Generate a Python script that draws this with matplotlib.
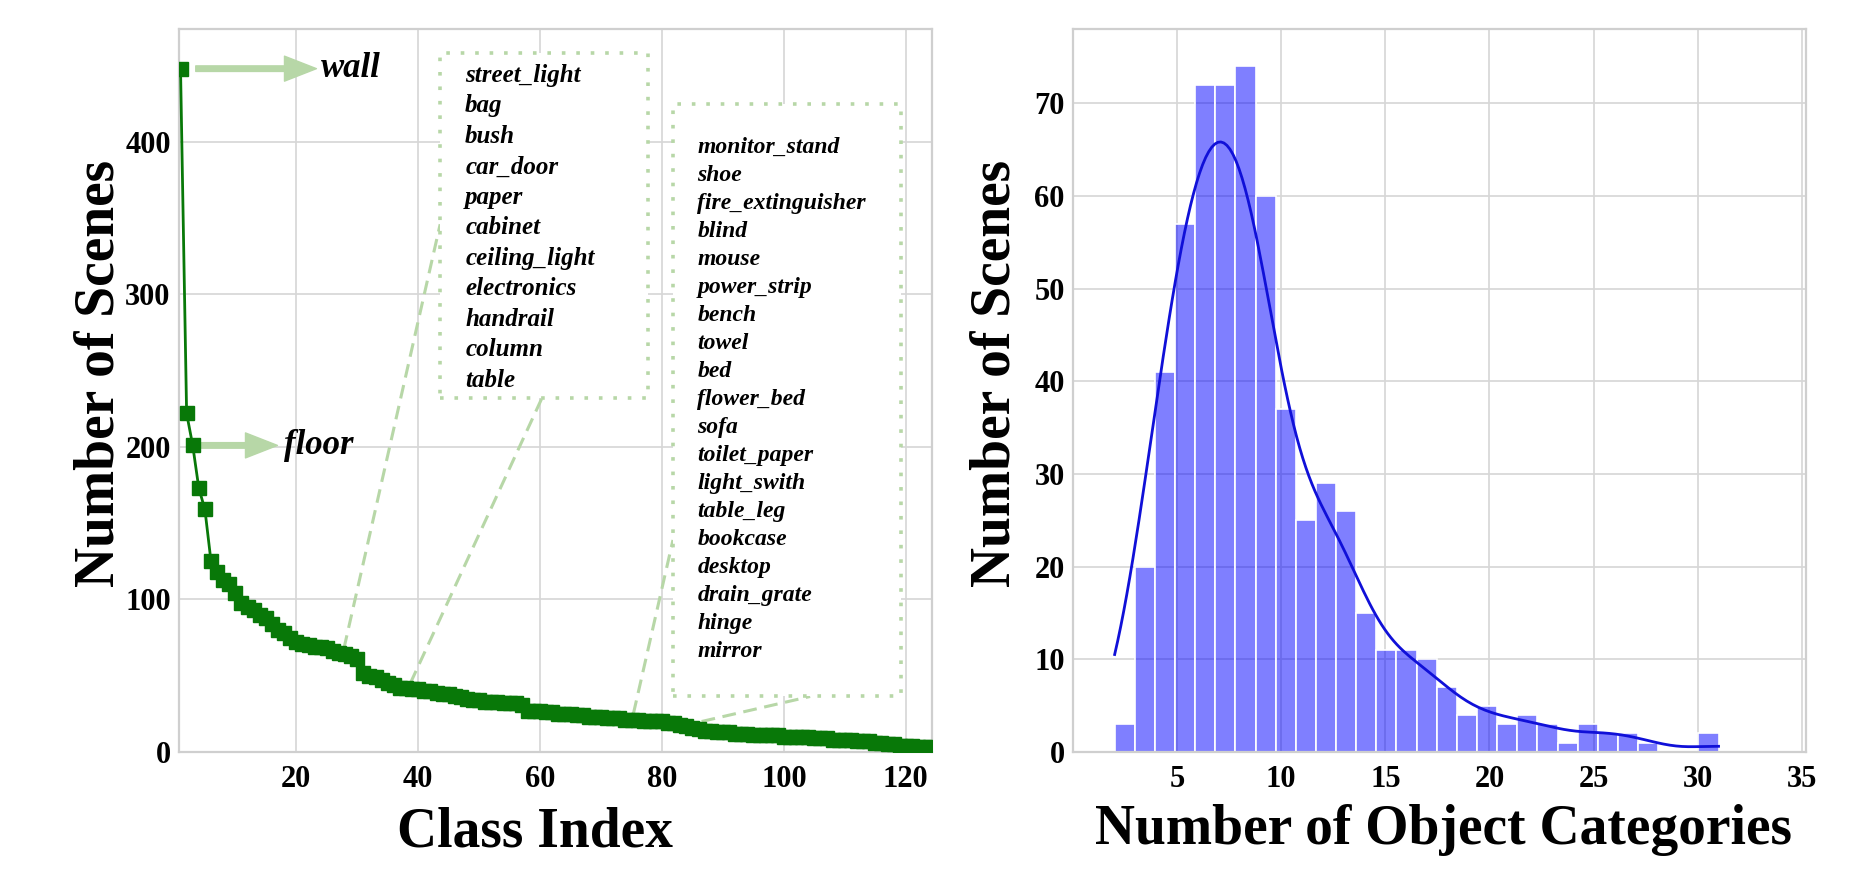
import matplotlib
matplotlib.use('Agg')
import matplotlib.pyplot as plt
import numpy as np
import seaborn as sns
from matplotlib.patches import Rectangle

plt.rcParams['font.family'] = ['Liberation Serif', 'DejaVu Serif']
plt.rcParams['font.weight'] = 'bold'
plt.rcParams['axes.labelweight'] = 'bold'

# --- left: number of scenes per class, sorted ---
scene_counts = [448, 222, 201, 173, 159, 125, 118, 113, 110, 104,
                98, 95, 93, 90, 88, 84, 80, 78, 75, 72,
                71, 70, 69, 69, 68, 66, 65, 64, 63, 61,
                52, 50, 49, 47, 45, 44, 42, 42, 41, 41,
                40, 40, 39, 38, 38, 37, 36, 35, 34, 34,
                33, 33, 33, 32, 32, 32, 31, 27, 27, 27,
                26, 26, 25, 25, 25, 24, 24, 23, 23, 23,
                22, 22, 22, 21, 21, 21, 20, 20, 20, 20,
                19, 19, 18, 17, 16, 15, 14, 14, 13, 13,
                13, 12, 12, 12, 11, 11, 11, 11, 11, 10,
                10, 10, 10, 10, 9, 9, 9, 8, 8, 8,
                8, 7, 7, 7, 6, 6, 5, 5, 4, 4,
                4, 3, 3, 3]
class_index = np.arange(1, len(scene_counts) + 1)

box1_labels = ['street_light', 'bag', 'bush', 'car_door', 'paper', 'cabinet',
               'ceiling_light', 'electronics', 'handrail', 'column', 'table']
box2_labels = ['monitor_stand', 'shoe', 'fire_extinguisher', 'blind', 'mouse',
               'power_strip', 'bench', 'towel', 'bed', 'flower_bed', 'sofa',
               'toilet_paper', 'light_swith', 'table_leg', 'bookcase', 'desktop',
               'drain_grate', 'hinge', 'mirror']

# --- right: histogram of object categories per scene ---
n_categories = np.arange(2, 32)
n_scenes_hist = [3, 20, 41, 57, 72, 72, 74, 60, 37, 25,
                 29, 26, 15, 11, 11, 10, 7, 4, 5, 3,
                 4, 3, 1, 3, 2, 2, 1, 0, 0, 2]
bin_edges = np.linspace(2, 31, 31)

lg = '#b7d7a7'
dark_green = '#087808'

W, H = 1872, 896
fig = plt.figure(figsize=(W / 100, H / 100), dpi=100)
ax1 = fig.add_axes([179 / W, 1 - 752 / H, (932 - 179) / W, (752 - 29) / H])
ax2 = fig.add_axes([1073 / W, 1 - 752 / H, (1806 - 1073) / W, (752 - 29) / H])

for ax in (ax1, ax2):
    ax.grid(True, color='#d6d6d6', lw=1.2)
    ax.set_axisbelow(True)
    for s in ax.spines.values():
        s.set_color('#cfcfcf')
        s.set_linewidth(1.6)
    ax.tick_params(length=0, labelsize=22)
    ax.tick_params(axis='x', pad=9)
    ax.tick_params(axis='y', pad=6)

# left plot
ax1.plot(class_index, scene_counts, color=dark_green, marker='s', ms=9.5,
         lw=2, zorder=4)
ax1.set_xlim(0.75, 124.3)
ax1.set_ylim(0, 474)
ax1.set_xticks([20, 40, 60, 80, 100, 120])
ax1.set_yticks([0, 100, 200, 300, 400])

arrow = 'simple,head_length=1.15,head_width=0.9,tail_width=0.2'
ax1.annotate('', xy=(23.3, scene_counts[0]), xytext=(3.5, scene_counts[0]),
             arrowprops=dict(arrowstyle=arrow, color=lg, mutation_scale=20,
                             shrinkA=0, shrinkB=0), zorder=3)
ax1.text(24.0, scene_counts[0], 'wall', style='italic', fontsize=25, va='center')
ax1.annotate('', xy=(16.9, scene_counts[2]), xytext=(4.4, scene_counts[2]),
             arrowprops=dict(arrowstyle=arrow, color=lg, mutation_scale=20,
                             shrinkA=0, shrinkB=0), zorder=3)
ax1.text(18.0, scene_counts[2], 'floor', style='italic', fontsize=25, va='center')

# dotted boxes
ax1.add_patch(Rectangle((43.6, 231.8), 77.7 - 43.6, 458 - 231.8, facecolor='white',
                        edgecolor=lg, ls=(0, (1, 3)), lw=2.6, zorder=3))
ax1.add_patch(Rectangle((81.8, 36.4), 119.2 - 81.8, 424.6 - 36.4, facecolor='white',
                        edgecolor=lg, ls=(0, (1, 3)), lw=2.6, zorder=3))

for i, name in enumerate(box1_labels):
    ax1.text(47.7, 443.6 - i * 20.0, name, style='italic', fontsize=18,
             va='center', zorder=5)
for i, name in enumerate(box2_labels):
    ax1.text(85.8, 396.4 - i * 18.36, name, style='italic', fontsize=17,
             va='center', zorder=5)

# dashed connectors
dash = (0, (4.5, 2.5))
ax1.plot([27.8, 43.6], [67.7, 346], color=lg, ls=dash, lw=2.2, zorder=2)
ax1.plot([38.7, 60.3], [45, 232], color=lg, ls=dash, lw=2.2, zorder=2)
ax1.plot([75.3, 81.8], [25, 139], color=lg, ls=dash, lw=2.2, zorder=2)
ax1.plot([86.5, 104.3], [20, 36.4], color=lg, ls=dash, lw=2.2, zorder=2)

ax1.set_xlabel('Class Index', fontsize=40, fontweight='bold', va='center')
ax1.xaxis.set_label_coords(0.473, -0.111)
ax1.set_ylabel('Number of Scenes', fontsize=40, fontweight='bold', va='center')
ax1.yaxis.set_label_coords(-0.106, 0.524)

# right plot
samples = np.repeat(n_categories, n_scenes_hist)
sns.histplot(x=samples, bins=bin_edges, kde=True, color='blue', alpha=0.5,
             edgecolor='white', linewidth=1.2, line_kws=dict(linewidth=2), ax=ax2)
ax2.lines[0].set_color('#1010d8')
ax2.set_xlim(0, 35.2)
ax2.set_ylim(0, 78)
ax2.set_xticks([5, 10, 15, 20, 25, 30, 35])
ax2.set_yticks([0, 10, 20, 30, 40, 50, 60, 70])
ax2.set_xlabel('Number of Object Categories', fontsize=40, fontweight='bold', va='center')
ax2.xaxis.set_label_coords(0.505, -0.108)
ax2.set_ylabel('Number of Scenes', fontsize=40, fontweight='bold', va='center')
ax2.yaxis.set_label_coords(-0.106, 0.524)

fig.savefig('out.png', dpi=100)
